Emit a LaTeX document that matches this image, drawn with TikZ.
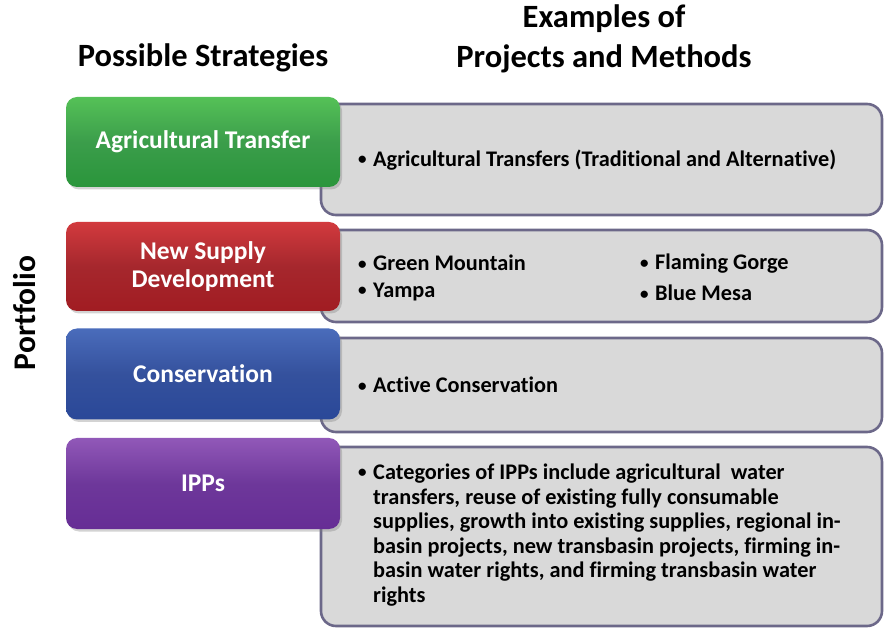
\documentclass[tikz,border=0pt]{standalone}
\usepackage{fontspec}
\setmainfont{Carlito}[Ligatures={NoCommon}]
\usetikzlibrary{shadows}
\definecolor{grayfill}{HTML}{D9D9D9}
\definecolor{grayline}{HTML}{6C6889}
\definecolor{gTop}{HTML}{55C157}
\definecolor{gBot}{HTML}{2A953B}
\definecolor{rTop}{HTML}{D23A3E}
\definecolor{rBot}{HTML}{A11C22}
\definecolor{bTop}{HTML}{4A6CBB}
\definecolor{bBot}{HTML}{2A4898}
\definecolor{pTop}{HTML}{9158B8}
\definecolor{pBot}{HTML}{662D95}
\begin{document}
\begin{tikzpicture}[x=1pt,y=-1pt,
  graybox/.style={draw=grayline, line width=2.6pt, fill=grayfill, rounded corners=15pt,
    minimum width=561pt, inner sep=0pt},
  btn/.style={rounded corners=11pt, minimum width=274pt, inner sep=0pt,
    text=white, font=\fontsize{25.5}{28}\selectfont\bfseries, align=center,
    drop shadow={shadow xshift=2pt, shadow yshift=-2.5pt, opacity=0.35}},
  item/.style={anchor=west, inner sep=0pt, align=left,
    font=\fontsize{22.3}{24.6}\selectfont\bfseries, text=black},
  title/.style={font=\fontsize{32.5}{40}\selectfont\bfseries, align=center, inner sep=0pt}
]
\useasboundingbox (0,0) rectangle (887,628);

% headings
\node[title] (hs) at (203,58) {Possible Strategies};
\node[title] (he) at (604,39) {Examples of\\Projects and Methods};
\node[font=\fontsize{31.5}{34}\selectfont\bfseries, rotate=90, inner sep=0pt] (pf) at (25,313) {Portfolio};

% gray boxes
\node[graybox, minimum height=111pt] (g1) at (601.5,159.5) {};
\node[graybox, minimum height=92pt] (g2) at (601.5,276) {};
\node[graybox, minimum height=94pt] (g3) at (601.5,385) {};
\node[graybox, minimum height=179pt] (g4) at (601.5,536.5) {};

% coloured buttons
\node[btn, minimum height=90pt, top color=gTop, bottom color=gBot, middle color=gBot!92!white] (b1) at (203,142) {Agricultural Transfer};
\node[btn, minimum height=89pt, top color=rTop, bottom color=rBot, middle color=rBot!95!white] (b2) at (203,266.5) {New Supply\\Development};
\node[btn, minimum height=91pt, top color=bTop, bottom color=bBot, middle color=bBot!95!white] (b3) at (203,374) {Conservation};
\node[btn, minimum height=91pt, top color=pTop, bottom color=pBot, middle color=pBot!95!white] (b4) at (203,483.5) {IPPs};

% texts
\newcommand{\bul}{\llap{{\fontsize{17}{17}\selectfont\raisebox{0.1em}{\textbullet}}\hspace{0.3em}}}
\node[item] (t1) at (373,160) {\bul Agricultural Transfers (Traditional and Alternative)};
\node[item] (t2a) at (373,263) {\bul Green Mountain};
\node[item] (t2b) at (373,292) {\bul Yampa};
\node[item] (t2c) at (655,264) {\bul Flaming Gorge};
\node[item] (t2d) at (655,293) {\bul Blue Mesa};
\node[item] (t3) at (373,385) {\bul Active Conservation};
\node[item] (t4) at (373,535) {\bul Categories of IPPs include agricultural\ \ water\\
transfers, reuse of existing fully consumable\\
supplies, growth into existing supplies, regional in-\\
basin projects, new transbasin projects, firming in-\\
basin water rights, and firming transbasin water\\
rights};
\end{tikzpicture}
\end{document}
